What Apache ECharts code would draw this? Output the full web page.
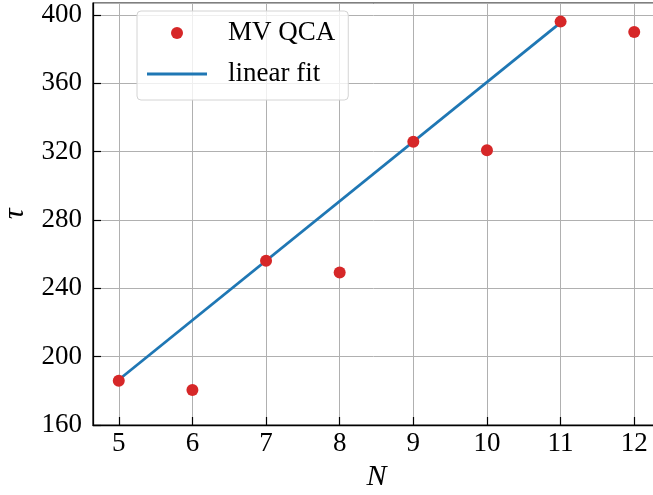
<!DOCTYPE html>
<html><head><meta charset="utf-8">
<script src="https://cdn.jsdelivr.net/npm/echarts@6/dist/echarts.min.js"></script>
<style>html,body{margin:0;padding:0;background:#fff}#c{width:653px;height:495px}</style>
</head><body><div id="c"></div>
<script>
const nValues = [5, 6, 7, 8, 9, 10, 11, 12];
const tauValues = [185.9, 180.5, 256.2, 249.2, 325.8, 320.8, 396.1, 390.0];
const fitN = [5, 11];
const fitTau = [186.5, 395.5];
const seriesNames = ['MV QCA', 'linear fit'];
const xTicks = [5, 6, 7, 8, 9, 10, 11, 12];

const FONT = "'Liberation Serif', 'DejaVu Serif', serif";
const chart = echarts.init(document.getElementById('c'), null, {renderer: 'canvas'});
chart.setOption({
  animation: false,
  backgroundColor: '#fff',
  grid: {left: 93, top: 3, right: -7, bottom: 70, outerBoundsMode: 'none', containLabel: false,
    show: true, borderColor: '#000', borderWidth: 1.25, backgroundColor: 'transparent'},
  legend: {
    left: 137, top: 11, orient: 'vertical',
    data: [
      {name: seriesNames[0], icon: 'circle'},
      {name: seriesNames[1], icon: 'path://M0,0L1,0L0,0ZM0,4.6L60,4.6L60,7.4L0,7.4ZM0,12L1,12L0,12Z'}
    ],
    itemWidth: 60, itemHeight: 12, itemGap: 11,
    padding: [7, 13, 11, 10],
    backgroundColor: 'rgba(255,255,255,0.8)', borderColor: '#d4d4d4', borderWidth: 1, borderRadius: 4,
    textStyle: {fontFamily: FONT, fontSize: 27, color: '#000', lineHeight: 30, padding: [0, 0, 0, 16]}
  },
  xAxis: {
    type: 'value', min: 4.65, max: 12.35,
    name: 'N', nameLocation: 'middle', nameGap: 29,
    nameTextStyle: {fontFamily: FONT, fontSize: 30, fontStyle: 'italic', color: '#000'},
    axisLine: {show: true, lineStyle: {color: '#000', width: 1.25}},
    axisTick: {show: true, inside: true, length: 8, customValues: xTicks, lineStyle: {color: '#000', width: 1.2}},
    axisLabel: {fontFamily: FONT, fontSize: 27, color: '#000', margin: 5, customValues: xTicks},
    splitLine: {show: true, lineStyle: {color: '#b0b0b0', width: 1}}
  },
  yAxis: {
    type: 'value', min: 160, max: 407, interval: 40,
    name: 'τ', nameLocation: 'middle', nameGap: 53, nameRotate: 90,
    nameTextStyle: {fontFamily: FONT, fontSize: 30, fontStyle: 'italic', color: '#000'},
    axisLine: {show: true, lineStyle: {color: '#000', width: 1.25}},
    axisTick: {show: true, inside: true, length: 8, lineStyle: {color: '#000', width: 1.2}},
    axisLabel: {fontFamily: FONT, fontSize: 27, color: '#000', margin: 11, showMaxLabel: false},
    splitLine: {show: true, lineStyle: {color: '#b0b0b0', width: 1}}
  },
  series: [
    {
      name: seriesNames[1], type: 'line', z: 2,
      data: fitN.map((n, i) => [n, fitTau[i]]),
      symbol: 'none', lineStyle: {color: '#1f77b4', width: 2.8}, itemStyle: {color: '#1f77b4'}
    },
    {
      name: seriesNames[0], type: 'scatter', z: 3,
      data: nValues.map((n, i) => [n, tauValues[i]]),
      symbolSize: 12, itemStyle: {color: '#d62728', opacity: 1}
    }
  ]
});
</script></body></html>
